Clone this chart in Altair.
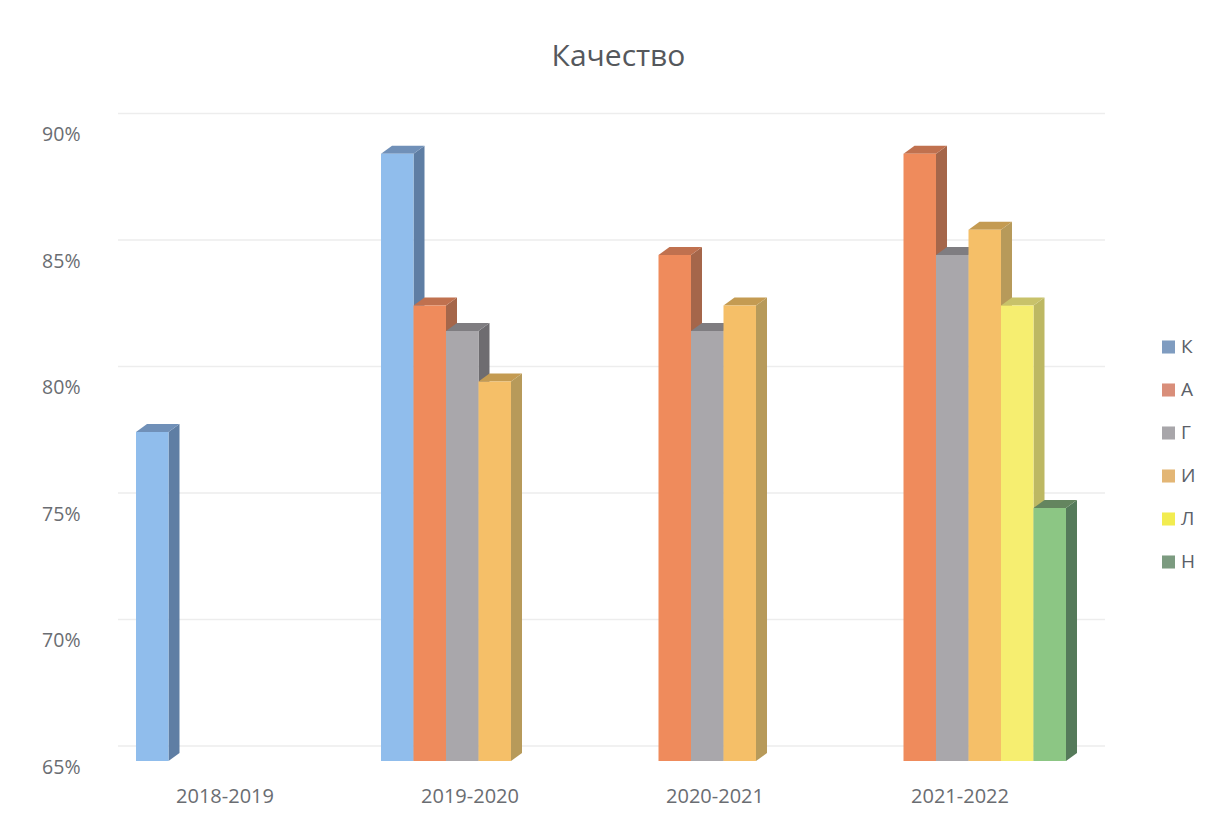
import json
import altair as alt
import pandas as pd

categories = ["2018-2019", "2019-2020", "2020-2021", "2021-2022"]
series = ["К", "А", "Г", "И", "Л", "Н"]
# values by series, one per category (None = no bar)
values = {
    "К": [78, 89, None, None],
    "А": [None, 83, 85, 89],
    "Г": [None, 82, 82, 85],
    "И": [None, 80, 83, 86],
    "Л": [None, None, None, 83],
    "Н": [None, None, None, 75],
}
front_colors = ["#90BDEC", "#EF8B5C", "#A9A7AB", "#F5BF68", "#F6EE70", "#8CC684"]
side_colors = ["#5F7EA4", "#A5664A", "#6E6C70", "#B79A5A", "#BDB863", "#557A5A"]
top_colors = ["#7090B8", "#C0714F", "#7F7D81", "#C49B52", "#C8C26A", "#64855F"]
legend_colors = ["#7F9CC0", "#D98E7A", "#A8A6AA", "#E3B675", "#F2EC50", "#7C9B80"]
y_ticks = [65, 70, 75, 80, 85, 90]

BASE = 65
SLOT_PX = 32.5
UNIT_PX = 25.3
GROUP_STEP = 245 / SLOT_PX
DX = 11 / SLOT_PX
DY = 8 / UNIT_PX
WALL = 15 / UNIT_PX

front_rows, face_rows = [], []
bar_id = 0
for g in range(len(categories)):
    for s, name in enumerate(series):
        v = values[name][g]
        if v is None:
            continue
        xl = g * GROUP_STEP + s
        xr = xl + 1
        front_rows.append(dict(x=xl, x2=xr, y=v, y2=BASE, fill=front_colors[s], series=name))
        side = [(xr, BASE, v), (xr + DX, BASE + DY, v + DY)]
        top = [(xl, v, v), (xl + DX, v, v + DY), (xr, v, v + DY), (xr + DX, v + DY, v + DY)]
        for pts, col, face in ((side, side_colors[s], "s"), (top, top_colors[s], "t")):
            for px, lo, hi in pts:
                face_rows.append(dict(x=px, lo=lo, hi=hi, fill=col, face=f"{bar_id:02d}{face}"))
        bar_id += 1

front = pd.DataFrame(front_rows)
faces = pd.DataFrame(face_rows)
grid = pd.DataFrame({"y": [t + WALL for t in y_ticks]})
legend_df = pd.DataFrame({"series": series, "x": [0] * 6, "y": [BASE] * 6})

FONT = "Open Sans"
TXT = "#6A6D72"
W, H = 987, 25 * UNIT_PX
xdom = [-18 / SLOT_PX, (1105 - 136) / SLOT_PX]
xs = alt.Scale(domain=xdom, nice=False, zero=False)
ys = alt.Scale(domain=[BASE, 90], nice=False, zero=False)

group_centres = [3 + g * GROUP_STEP for g in range(len(categories))]
label_expr = f"{json.dumps(categories, ensure_ascii=False)}[round((datum.value-3)/{GROUP_STEP})]"

x_axis = alt.Axis(values=group_centres, labelExpr=label_expr, title=None, grid=False, ticks=False,
                  domain=False, labelPadding=25, labelOffset=-9, labelFontSize=20, labelFont=FONT,
                  labelColor=TXT, labelOverlap=False, labelBound=False, labelFlush=False)
y_axis = alt.Axis(values=y_ticks, labelExpr="datum.value + '%'", title=None, grid=False, ticks=False,
                  domain=False, labelPadding=38, labelOffset=6, labelFontSize=19.5, labelFont=FONT,
                  labelColor=TXT, labelOverlap=False, labelBound=False, labelFlush=False)

grid_layer = alt.Chart(grid).mark_rule(color="#EDEDED", strokeWidth=1.5).encode(
    y=alt.Y("y:Q", scale=ys, axis=y_axis))

face_layer = alt.Chart(faces).mark_area(interpolate="linear", opacity=1).encode(
    x=alt.X("x:Q", scale=xs, axis=x_axis),
    y=alt.Y("lo:Q", scale=ys),
    y2="hi:Q",
    detail="face:N",
    color=alt.Color("fill:N", scale=None),
)

front_layer = alt.Chart(front).mark_bar(cornerRadius=0).encode(
    x=alt.X("x:Q", scale=xs),
    x2="x2:Q",
    y=alt.Y("y:Q", scale=ys),
    y2="y2:Q",
    color=alt.Color("fill:N", scale=None),
)

legend_layer = alt.Chart(legend_df).mark_square(size=0, opacity=1).encode(
    x=alt.X("x:Q", scale=xs),
    y=alt.Y("y:Q", scale=ys),
    color=alt.Color("series:N",
                    scale=alt.Scale(domain=series, range=legend_colors),
                    sort=series,
                    legend=alt.Legend(title=None, orient="none", legendX=1041, legendY=209,
                                      symbolType="square", symbolSize=170, symbolOpacity=1,
                                      symbolStrokeWidth=0, labelFont=FONT, labelFontSize=19,
                                      labelColor="#5A6068", rowPadding=23, labelOffset=3)),
)

chart = alt.layer(grid_layer, face_layer, front_layer, legend_layer).resolve_scale(
    color="independent"
).properties(
    width=W, height=H,
    title=alt.TitleParams("Качество", font=FONT, fontSize=30, fontWeight="normal",
                          color="#55585C", anchor="middle", offset=41, dx=7),
    autosize=alt.AutoSizeParams(type="none"),
    padding={"left": 110, "top": 120.5, "right": 95, "bottom": 50},
    background="#FFFFFF",
).configure_view(stroke=None)

chart.save("out.html", embed_options={"renderer": "svg", "actions": False})
